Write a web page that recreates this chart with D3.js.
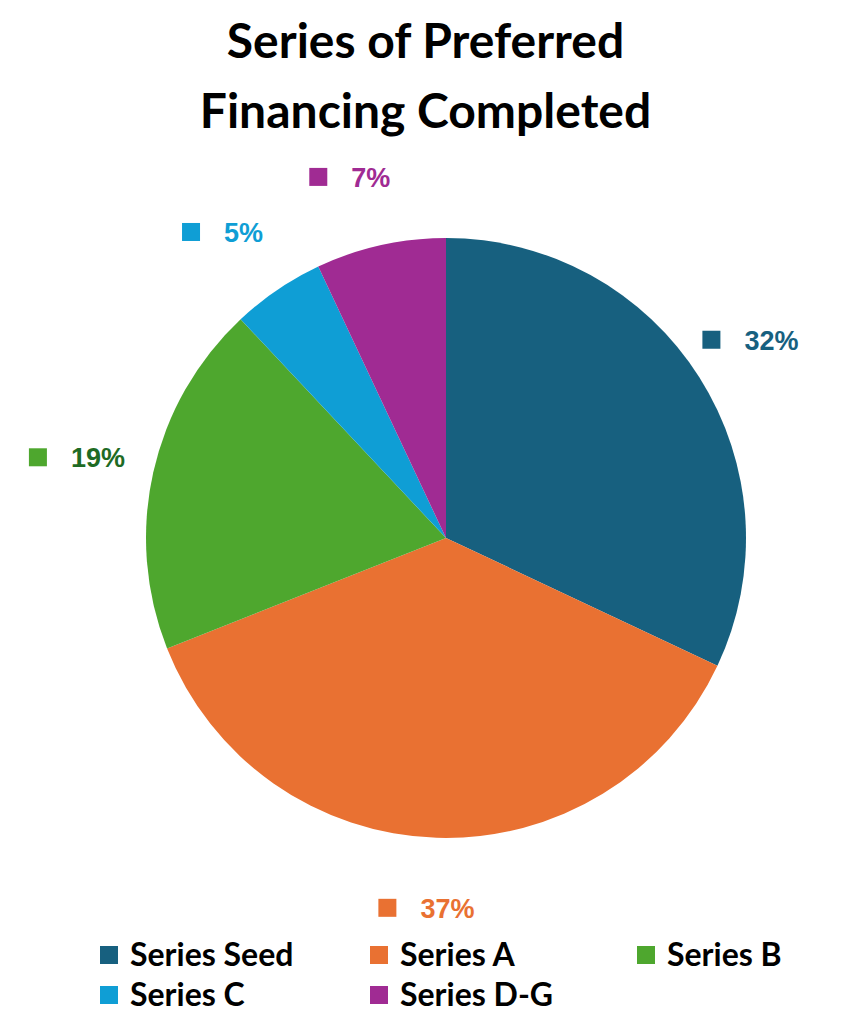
<!DOCTYPE html>
<html><head><meta charset="utf-8">
<script src="https://cdn.jsdelivr.net/npm/d3@7"></script>
<style>body{margin:0;background:#fff}</style></head>
<body><svg id="c" width="851" height="1024"></svg>
<script>
const categories = ["Series Seed","Series A","Series B","Series C","Series D-G"];
const values = [32,37,19,5,7];
const colors = ["#17607f","#e97132","#4ea72e","#0f9ed5","#a02b93"];
const labelColors = ["#17607f","#e97132","#1e6b24","#0f9ed5","#a02b93"];

const svg = d3.select("#c");
const cx=446, cy=538, R=300;
svg.append("text").attr("x",425.5).attr("y",58).attr("text-anchor","middle")
  .attr("font-family","Lato").attr("font-weight","bold").attr("font-size",48).text("Series of Preferred");
svg.append("text").attr("x",425.5).attr("y",128).attr("text-anchor","middle")
  .attr("font-family","Lato").attr("font-weight","bold").attr("font-size",48).text("Financing Completed");

const pie = d3.pie().sort(null).value(d=>d)(values);
const arc = d3.arc().innerRadius(0).outerRadius(R);
const g = svg.append("g").attr("transform",`translate(${cx},${cy})`);
g.selectAll("path").data(pie).join("path").attr("d",arc).attr("fill",(d,i)=>colors[i]);

const lab = d3.arc().innerRadius(R+70).outerRadius(R+70);
pie.forEach((d,i)=>{
  const [x,y]=lab.centroid(d);
  const lg=g.append("g").attr("transform",`translate(${x},${y})`);
  lg.append("rect").attr("x",-56).attr("y",-9).attr("width",18).attr("height",18).attr("fill",colors[i]);
  lg.append("text").attr("x",-14).attr("y",10).attr("font-family","Liberation Sans, Arial").attr("font-weight","bold")
    .attr("font-size",27).attr("fill",labelColors[i]).text(values[i]+"%");
});

const legPos=[[100,955],[370,955],[637,955],[100,995],[370,995]];
categories.forEach((c,i)=>{
  const [x,y]=legPos[i];
  svg.append("rect").attr("x",x).attr("y",y-9).attr("width",18).attr("height",18).attr("fill",colors[i]);
  svg.append("text").attr("x",x+30).attr("y",y+11).attr("font-family","Lato").attr("font-weight","bold")
    .attr("font-size",32).text(c);
});
</script></body></html>
